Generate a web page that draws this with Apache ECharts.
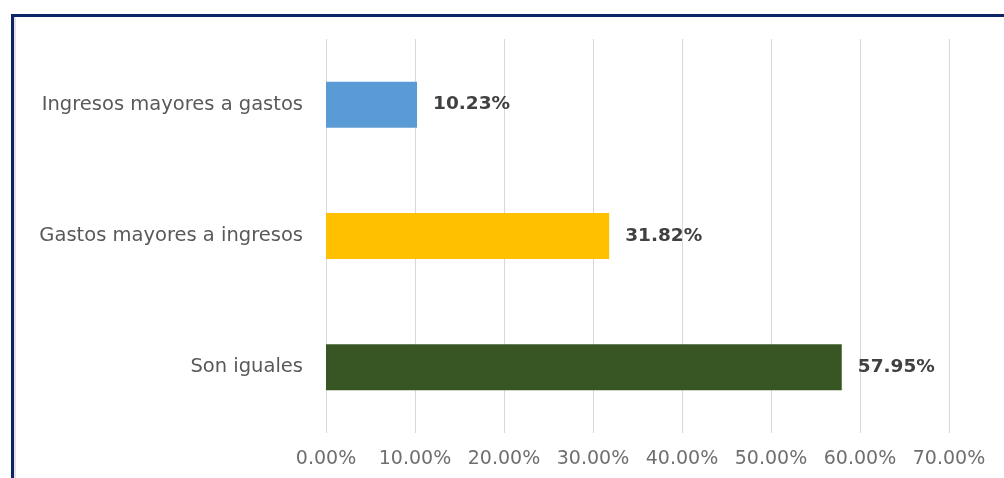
<!DOCTYPE html>
<html>
<head>
<meta charset="utf-8">
<script src="https://cdn.jsdelivr.net/npm/echarts@6/dist/echarts.min.js"></script>
<style>
  html, body { margin: 0; padding: 0; background: #ffffff; }
  #chart { width: 1004px; height: 478px; }
  #frame {
    position: absolute; left: 11px; top: 14px; width: 1010px; height: 480px;
    border-top: 3px solid #0b2567; border-left: 3px solid #0b2567;
    box-shadow: inset 2px 0 0 #e3e3e6;
    pointer-events: none;
  }
</style>
</head>
<body>
<div id="chart"></div>
<div id="frame"></div>
<script>
// Household balance: share of responses per category
const categories = ['Son iguales', 'Gastos mayores a ingresos', 'Ingresos mayores a gastos'];
const shares = [57.95, 31.82, 10.23];
const barColors = ['#375623', '#ffc000', '#5b9bd5'];

const chart = echarts.init(document.getElementById('chart'), null, { renderer: 'canvas' });

chart.setOption({
  animation: false,
  grid: { left: 326, right: 55, top: 39, bottom: 45, containLabel: false },
  xAxis: {
    type: 'value',
    min: 0,
    max: 70,
    interval: 10,
    axisLine: { show: false },
    axisTick: { show: false },
    splitLine: { lineStyle: { color: '#d9d9d9', width: 1 } },
    axisLabel: {
      margin: 17,
      color: '#6f6f6f',
      fontFamily: 'DejaVu Sans',
      fontSize: 19,
      formatter: v => v.toFixed(2) + '%'
    }
  },
  yAxis: {
    type: 'category',
    data: categories,
    axisLine: { show: false },
    axisTick: { show: false },
    axisLabel: {
      margin: 23,
      color: '#595959',
      fontFamily: 'DejaVu Sans',
      fontSize: 19.5
    }
  },
  series: [{
    type: 'bar',
    data: shares.map((v, i) => ({ value: v, itemStyle: { color: barColors[i] } })),
    barWidth: '35%',
    label: {
      show: true,
      position: 'right',
      distance: 16,
      color: '#404040',
      fontFamily: 'DejaVu Sans',
      fontWeight: 'bold',
      fontSize: 18.5,
      formatter: p => p.value.toFixed(2) + '%'
    }
  }]
});
</script>
</body>
</html>
